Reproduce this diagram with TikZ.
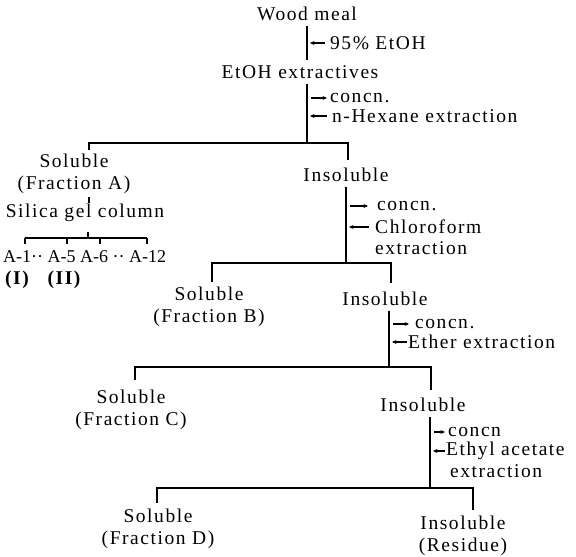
\documentclass[tikz,border=0pt]{standalone}
\usepackage{fontspec}
\setmainfont{Liberation Serif}[LetterSpace=8]
\newfontfamily\tightfont{Liberation Serif}
\usetikzlibrary{arrows.meta,positioning,calc}
\newcommand{\lbl}{\fontsize{19.5}{22}\selectfont}
\tikzset{
  lab/.style={font=\lbl,inner xsep=0pt,inner ysep=5pt,align=center},
  side/.style={font=\lbl,inner sep=0pt,anchor=west},
  frac/.style={font=\tightfont\fontsize{18}{20}\selectfont,inner sep=0pt,anchor=west},
  ln/.style={line width=1.6pt},
  tick/.style={line width=1.3pt},
  addin/.style={-{Stealth[length=4.5pt,width=4pt]},line width=1.1pt,
                shorten <=5pt,shorten >=3pt},
  outarr/.style={-{Stealth[length=4.5pt,width=4pt]},line width=1.1pt,
                 shorten <=4pt,shorten >=3pt},
}

\begin{document}
\begin{tikzpicture}[x=1pt,y=-1pt]
  \path[fill=white,use as bounding box] (0,0) rectangle (576,557);

  % wood meal -> EtOH extractives
  \node[lab] (wood) at (307,14) {Wood meal};
  \node[lab] (ext) at (300,72) {EtOH extractives};
  \node[side] (etoh) at (330,43) {95\% EtOH};
  \draw[ln] (wood.south) -- (wood.south |- ext.north);
  \draw[addin] (etoh.west) -- (etoh.west -| wood.south);

  % n-hexane
  \coordinate (j1) at (307,143);
  \draw[ln] (ext.south -| j1) -- (j1);
  \node[side] (cc1) at (330,98) {concn.};
  \node[side] (hex) at (332,116) {n-Hexane extraction};
  \draw[outarr] (cc1.west -| j1) -- (cc1.west);
  \draw[addin] (hex.west) -- (hex.west -| j1);
  \coordinate (la) at (89,150);
  \coordinate (ra) at (348,160);
  \draw[ln] (la) |- (j1) -| (ra);
  \node[lab] (solA) at (74,174) {Soluble\\(Fraction A)};
  \node[lab] (ins1) at (346,175) {Insoluble};

  % silica gel column
  \coordinate (ta) at (89,197);
  \draw[tick] (ta) -- ++(0,6);
  \node[lab] (sil) at (85,213) {Silica gel column};
  \coordinate (jA) at (88,238);
  \draw[tick] (jA) -- ++(0,-6);
  \draw[tick] (25,238) -- (147,238);
  \foreach \x in {25,67,100,147}
    \draw[tick] (\x,238) -- (\x,244);
  \node[frac] (arow) at (3,257) {A-1·· A-5 A-6 ·· A-12};
  \node[lab,font=\lbl\bfseries,inner ysep=0pt] (f1) at (17,280) {(I)};
  \node[lab,font=\lbl\bfseries,inner ysep=0pt] (f2) at (64,280) {(II)};

  % chloroform
  \coordinate (j2) at (346,263);
  \draw[ln] (ins1.south -| j2) -- (j2);
  \node[side] (cc2) at (377,206) {concn.};
  \node[side] (chl) at (375,227) {Chloroform};
  \node[side] (chx) at (375,248) {extraction};
  \draw[outarr,shorten >=9pt] (cc2.west -| j2) -- (cc2.west);
  \draw[addin,shorten <=6pt] (chl.west) -- (chl.west -| j2);
  \coordinate (lb) at (212,282);
  \coordinate (rb) at (391,283);
  \draw[ln] (lb) |- (j2) -| (rb);
  \node[lab] (solB) at (209,307) {Soluble\\(Fraction B)};
  \node[lab] (ins2) at (385,299) {Insoluble};

  % ether
  \coordinate (j3) at (389,367);
  \draw[ln] (ins2.south -| j3) -- (j3);
  \node[side] (cc3) at (415,324) {concn.};
  \node[side] (eth) at (408,342) {Ether extraction};
  \draw[outarr,shorten >=6pt] (cc3.west -| j3) -- (cc3.west);
  \draw[addin,shorten <=1pt] (eth.west) -- (eth.west -| j3);
  \coordinate (lc) at (135,380);
  \coordinate (rc) at (431,390);
  \draw[ln] (lc) |- (j3) -| (rc);
  \node[lab] (solC) at (131,410) {Soluble\\(Fraction C)};
  \node[lab] (ins3) at (423,405) {Insoluble};

  % ethyl acetate
  \coordinate (j4) at (430,488);
  \draw[ln] (ins3.south -| j4) -- (j4);
  \node[side] (cc4) at (448,432) {concn};
  \node[side] (eta) at (446,451) {Ethyl acetate};
  \node[side] (etx) at (450,471) {extraction};
  \draw[outarr] (cc4.west -| j4) -- (cc4.west);
  \draw[addin,shorten <=1pt] (eta.west) -- (eta.west -| j4);
  \coordinate (ld) at (157,503);
  \coordinate (rd) at (473,510);
  \draw[ln] (ld) |- (j4) -| (rd);
  \node[lab] (solD) at (158,529) {Soluble\\(Fraction D)};
  \node[lab] (insR) at (463,536) {Insoluble\\(Residue)};
\end{tikzpicture}
\end{document}
